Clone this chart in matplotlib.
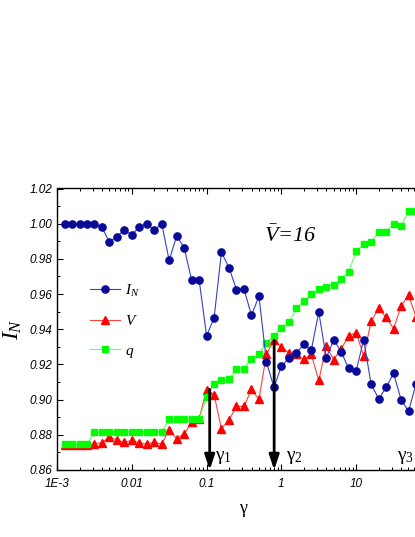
import numpy as np
import matplotlib
matplotlib.use("Agg")
import matplotlib.pyplot as plt
from matplotlib.ticker import FixedLocator, NullFormatter, MultipleLocator

plt.rcParams['mathtext.fontset'] = 'custom'
plt.rcParams['mathtext.rm'] = 'Liberation Serif'
plt.rcParams['mathtext.it'] = 'Liberation Serif:italic'
plt.rcParams['mathtext.bf'] = 'Liberation Serif:bold'

# gamma values (x)
gamma = [0.00126, 0.00158, 0.00200, 0.00251, 0.00316, 0.00398, 0.00501, 0.00631,
         0.00794, 0.0100, 0.0126, 0.0158, 0.0200, 0.0251, 0.0316, 0.0398,
         0.0501, 0.0631, 0.0794, 0.100, 0.126, 0.158, 0.200, 0.251,
         0.316, 0.398, 0.501, 0.631, 0.794, 1.00, 1.26, 1.58,
         2.00, 2.51, 3.16, 3.98, 5.01, 6.31, 7.94, 10.0,
         12.6, 15.8, 20.0, 25.1, 31.6, 39.8, 50.1, 63.1]

I_N = [1.000, 1.000, 1.000, 1.000, 1.000, 0.998, 0.9895, 0.9927,
       0.9964, 0.9938, 0.998, 1.000, 0.9963, 1.000, 0.9791, 0.993,
       0.9864, 0.9678, 0.9682, 0.9362, 0.9465, 0.9838, 0.9748, 0.9625,
       0.9629, 0.9479, 0.9588, 0.9215, 0.907, 0.9189, 0.9236, 0.9264,
       0.9315, 0.9282, 0.9497, 0.9237, 0.9341, 0.9271, 0.9177, 0.9164,
       0.9341, 0.9089, 0.9004, 0.907, 0.9149, 0.900, 0.8934, 0.9089]

V = [0.8742, 0.8742, 0.8742, 0.8742, 0.8749, 0.8755, 0.8787, 0.8772,
     0.8758, 0.8768, 0.8755, 0.8747, 0.8758, 0.8747, 0.8829, 0.8777,
     0.8806, 0.887, 0.889, 0.9057, 0.9028, 0.8834, 0.8886, 0.8961,
     0.8961, 0.9058, 0.9001, 0.9258, 0.9337, 0.9299, 0.9265, 0.9261,
     0.9229, 0.9257, 0.9109, 0.9303, 0.9227, 0.929, 0.9362, 0.9381,
     0.9246, 0.9445, 0.9518, 0.9467, 0.9404, 0.9531, 0.9594, 0.947]

q = [0.8746, 0.8746, 0.8746, 0.8746, 0.8816, 0.8816, 0.8816, 0.8816,
     0.8816, 0.8816, 0.8816, 0.8816, 0.8816, 0.8816, 0.8889, 0.8889,
     0.8889, 0.8889, 0.8889, 0.9014, 0.9091, 0.9109, 0.9115, 0.9176,
     0.9176, 0.9233, 0.9262, 0.9324, 0.9362, 0.9407, 0.9441, 0.9518,
     0.9561, 0.9598, 0.9628, 0.9641, 0.9654, 0.9683, 0.9726, 0.9844,
     0.9882, 0.9897, 0.9954, 0.9954, 0.9998, 0.9988, 1.0072, 1.0072]

xtick_vals = [1e-3, 1e-2, 1e-1, 1, 10]
xtick_labels = ["1E-3", "0.01", "0.1", "1", "10"]
ytick_vals = [0.86, 0.88, 0.90, 0.92, 0.94, 0.96, 0.98, 1.00, 1.02]
ytick_labels = ["0.86", "0.88", "0.90", "0.92", "0.94", "0.96", "0.98", "1.00", "1.02"]

arrow_x = [0.11, 0.80]
arrow_top = [0.9058, 0.9337]
gamma_labels = [r'$\mathrm{\gamma}_1$', r'$\mathrm{\gamma}_2$', r'$\mathrm{\gamma}_3$']
gamma_label_x = [0.13, 1.15, 35.0]

fig = plt.figure(figsize=(4.15, 5.37), dpi=100)
ax = fig.add_axes([57/415, 67/537, 374/415, 281.5/537])

ax.plot(gamma, I_N, color='#3340c8', lw=0.8, marker='o', ms=5.2,
        mfc='#0a0a99', mec='#0a0a99', label=r'$I_N$', zorder=3)
ax.plot(gamma, V, color='#ff4040', lw=0.8, marker='^', ms=5.5,
        mfc='#ff0000', mec='#ff0000', label=r'$V$', zorder=2)
ax.plot(gamma, q, color='#66ff66', lw=0.8, marker='s', ms=4.6,
        mfc='#00ff00', mec='#00ff00', label=r'$q$', zorder=2.5)

ax.set_xscale('log')
ax.set_xlim(1e-3, 100)
ax.set_ylim(0.86, 1.02)

ax.set_xticks(xtick_vals)
ax.set_xticklabels(xtick_labels)
ax.xaxis.set_minor_locator(FixedLocator(
    [m * 10.0**e for e in range(-3, 2) for m in range(2, 10)]))
ax.xaxis.set_minor_formatter(NullFormatter())
ax.set_yticks(ytick_vals)
ax.set_yticklabels(ytick_labels)
ax.yaxis.set_minor_locator(MultipleLocator(0.01))

ax.tick_params(which='both', direction='in', top=True, right=False)
ax.tick_params(which='major', length=4.5, width=0.8)
ax.tick_params(which='minor', length=2.5, width=0.7)
for lbl in ax.get_xticklabels() + ax.get_yticklabels():
    lbl.set_fontfamily('Liberation Sans')
    lbl.set_fontstyle('italic')
    lbl.set_fontsize(8.5)
ax.tick_params(axis='x', pad=6)
for sp in ax.spines.values():
    sp.set_linewidth(1.0)

ax.set_ylabel(r'$I_N$', fontsize=17, labelpad=4)
ax.set_xlabel(r'$\mathrm{\gamma}$', fontsize=13, labelpad=8)

for xa, yt in zip(arrow_x, arrow_top):
    ax.annotate('', xy=(xa, 0.86), xytext=(xa, yt),
                arrowprops=dict(arrowstyle='-|>,head_length=0.9,head_width=0.3',
                                color='black', lw=2.0, shrinkA=0, shrinkB=0),
                zorder=4)

for lab, xl in zip(gamma_labels, gamma_label_x):
    ax.text(xl, 0.8678, lab, fontsize=14, va='center', ha='left')

ax.text(0.58, 0.993, r'$\bar{V}$=16', fontsize=16, va='center', ha='left',
        family='Liberation Serif', style='italic')

leg = ax.legend(loc='center left', bbox_to_anchor=(0.088, 0.529), frameon=False,
                fontsize=11, handlelength=2.0, handletextpad=0.3,
                labelspacing=0.95, borderpad=0, borderaxespad=0)

fig.savefig('out.png', dpi=100)
